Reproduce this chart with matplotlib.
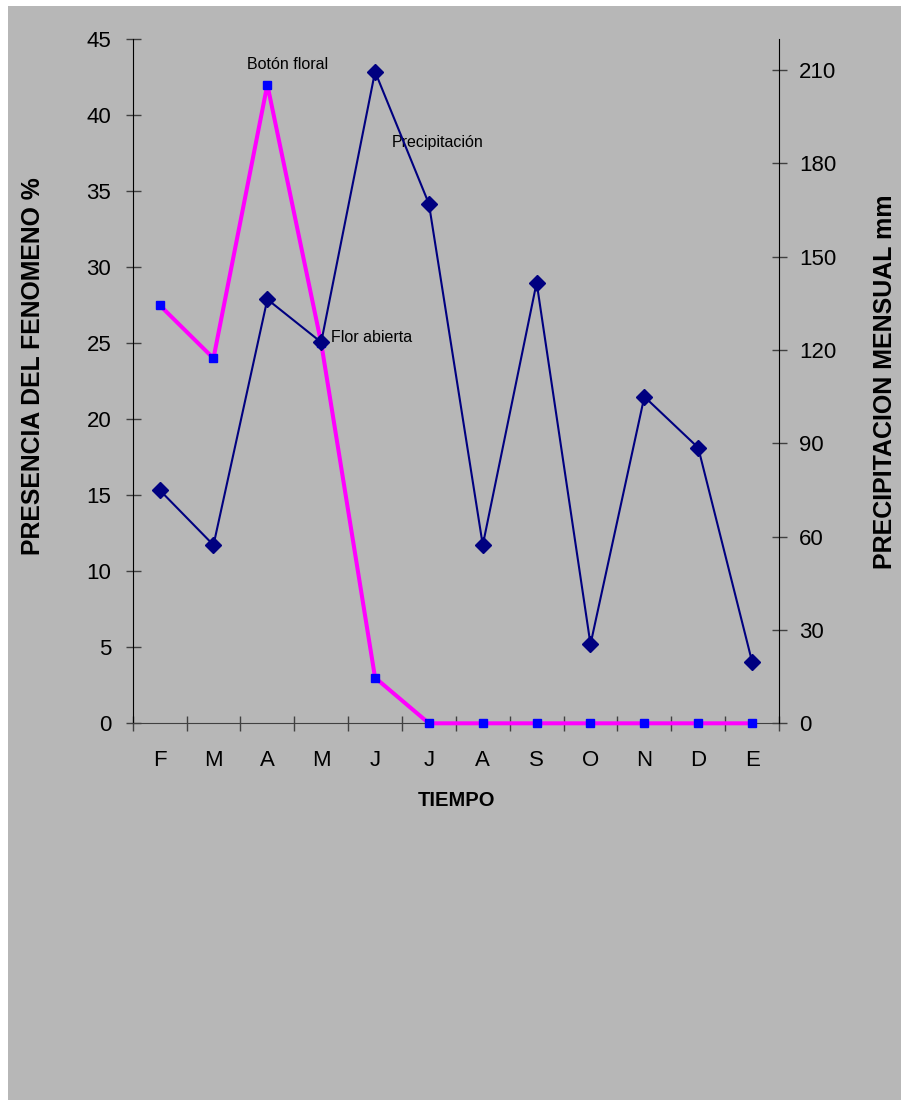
import numpy as np
import matplotlib
matplotlib.use('Agg')
import matplotlib.pyplot as plt
from matplotlib.patches import Rectangle

# datos
meses = ['F', 'M', 'A', 'M', 'J', 'J', 'A', 'S', 'O', 'N', 'D', 'E']
boton_floral = [27.5, 24, 42, 25, 3, 0, 0, 0, 0, 0, 0, 0]  # % (eje izquierdo)
precipitacion = [75, 57.3, 136.3, 122.5, 209.5, 167, 57.3, 141.7, 25.4, 105, 88.6, 19.8]  # mm (eje derecho)
ticks_izq = [0, 5, 10, 15, 20, 25, 30, 35, 40, 45]
ticks_der = [0, 30, 60, 90, 120, 150, 180, 210]

plt.rcParams['font.family'] = ['Liberation Sans', 'DejaVu Sans']

W, H = 901, 1100
fig = plt.figure(figsize=(W / 100, H / 100), dpi=100)
fig.patch.set_facecolor('white')
fig.add_artist(Rectangle((8 / W, 0), 1, 1 - 6 / H, transform=fig.transFigure,
                         facecolor='#b7b7b7', edgecolor='none', zorder=-1))

left, right, top, bottom = 132.7, 779, 39, 723.3
ax1 = fig.add_axes([left / W, 1 - bottom / H, (right - left) / W, (bottom - top) / H])
ax1.set_facecolor('none')

x = np.arange(len(meses))
ax1.plot(x, boton_floral, color='#ff00ff', lw=2.9, marker='s', ms=6,
         mfc='#0000ff', mec='#0000ff', clip_on=False, zorder=4)
ax1.set_xlim(-0.5, len(meses) - 0.5)
ax1.set_ylim(0, 45)
ax1.set_yticks(ticks_izq)
ax1.set_xticks(x)
ax1.set_xticklabels(meses)
ax1.set_xticks(np.arange(-0.5, len(meses), 1), minor=True)
ax1.tick_params(axis='x', which='major', length=0, pad=19, labelsize=16)
ax1.tick_params(axis='x', which='minor', direction='inout', length=10.8, width=1, color='#404040')
ax1.tick_params(axis='y', direction='inout', length=10.8, width=1, color='#404040', labelsize=16, pad=10)
for s in ['top', 'right']:
    ax1.spines[s].set_visible(False)
ax1.spines['bottom'].set_color('#404040')
ax1.spines['left'].set_color('black')

ax2 = ax1.twinx()
ax2.set_facecolor('none')
ax2.plot(x, precipitacion, color='#000080', lw=1.5, marker='D', ms=8,
         mfc='#000080', mec='#000080', clip_on=False)
ax2.set_ylim(0, 220)
ax2.set_yticks(ticks_der)
ax2.tick_params(axis='y', direction='inout', length=10.8, width=1, color='#404040', labelsize=16, pad=9)
for s in ['top', 'bottom', 'left']:
    ax2.spines[s].set_visible(False)
ax2.spines['right'].set_color('black')

# etiquetas de las series
ax1.text(2.38, 43.3, 'Botón floral', fontsize=11.5, ha='center', va='center')
ax1.text(4.31, 38.2, 'Precipitación', fontsize=11.5, ha='left', va='center')
ax1.text(3.18, 25.4, 'Flor abierta', fontsize=11.5, ha='left', va='center')

fig.text(33.5 / W, 1 - 366 / H, 'PRESENCIA DEL FENOMENO %', rotation=90,
         ha='center', va='center', fontsize=17.8, fontweight='bold')
fig.text(885.5 / W, 1 - 382 / H, 'PRECIPITACION MENSUAL mm', rotation=90,
         ha='center', va='center', fontsize=18, fontweight='bold')
fig.text(457 / W, 1 - 800 / H, 'TIEMPO', ha='center', va='center',
         fontsize=14.5, fontweight='bold')

fig.savefig('out.png', dpi=100)
